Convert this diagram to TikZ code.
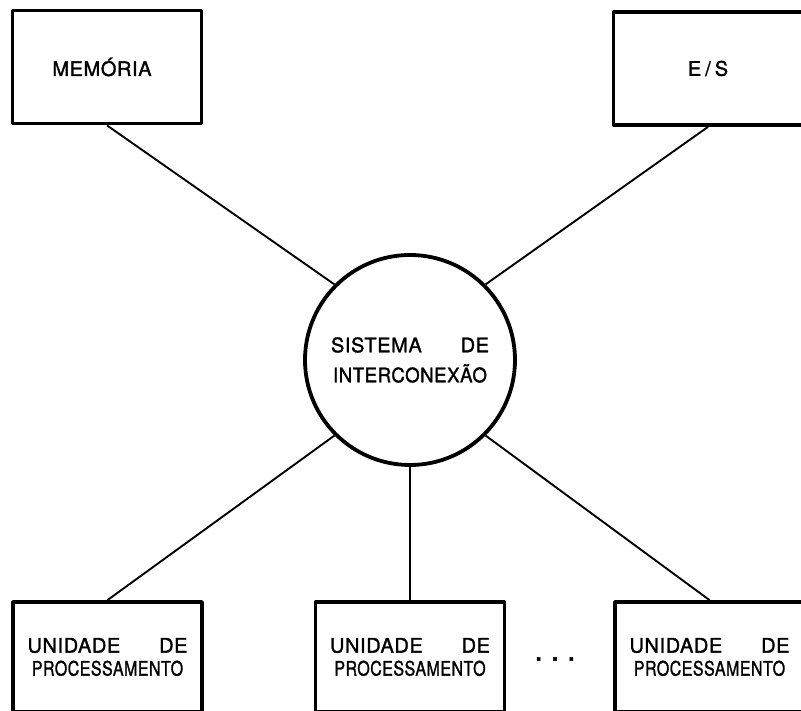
\documentclass[tikz,border=0pt]{standalone}
\usepackage{fontspec}
\setmainfont{TeX Gyre Heros}[FakeBold=1.5, LetterSpace=3]
\usepackage{graphicx}
\begin{document}
\begin{tikzpicture}[x=1pt,y=1pt,
  unitbox/.style={draw, line width=3.8pt, line join=round, inner sep=0pt,
    minimum width=189pt, font=\fontsize{20}{23}\selectfont},
  topbox/.style={unitbox, minimum height=113pt},
  procbox/.style={unitbox, minimum height=110pt, align=center},
  hub/.style={draw, circle, line width=3.8pt, minimum size=210pt, inner sep=0pt,
    align=center, font=\fontsize{20}{30}\selectfont},
  link/.style={line width=1.9pt}]
\useasboundingbox (0,0) rectangle (801,711);

% peripheral units
\node[topbox] (mem) at (107,644) {MEMÓRIA\kern10pt};
\node[topbox] (es)  at (708,642.5) {E\kern4pt/\kern4pt S};

% interconnection system
\node[hub] (sys) at (410,351)
  {\makebox[158pt]{SISTEMA\hfill DE}\\\scalebox{0.93}[1]{INTERCONEXÃO}};

% processing units
\newcommand{\procunit}{\makebox[160pt]{UNIDADE\hfill DE}\\\scalebox{0.8}[1]{PROCESSAMENTO}}
\node[procbox] (pu1) at (107.5,54) {\procunit};
\node[procbox] (pu2) at (410,54)   {\procunit};
\node[procbox] (pu3) at (709.5,54) {\procunit};
\node[inner sep=0pt, font=\fontsize{30}{30}\selectfont] (dots) at (555,52)
  {.\hspace{8pt}.\hspace{8pt}.};

% connections
\draw[link] (mem.south) -- (sys.north west);
\draw[link] (es.south)  -- (sys.north east);
\draw[link] (pu1.north) -- (sys.south west);
\draw[link] (pu2.north) -- (sys.south);
\draw[link] (pu3.north) -- (sys.south east);
\end{tikzpicture}
\end{document}
